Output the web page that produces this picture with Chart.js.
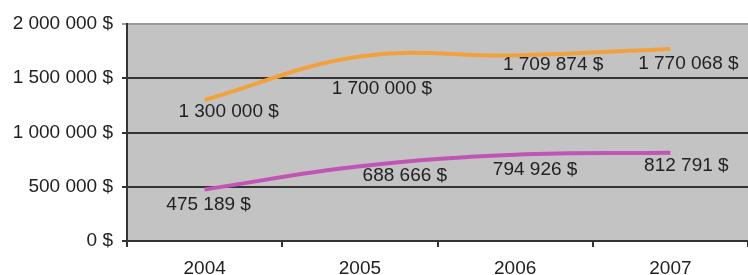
<!DOCTYPE html>
<html lang="fr">
<head>
  <meta charset="UTF-8">
  <title>Ventes 2004-2007</title>
  <script src="https://cdn.jsdelivr.net/npm/chart.js"></script>
  <style>
    html, body { margin: 0; padding: 0; background: #fff; }
    #wrap { width: 748px; height: 275px; }
  </style>
</head>
<body>
  <div id="wrap"><canvas id="salesChart"></canvas></div>

  <script>
    const years = ['2004', '2005', '2006', '2007'];
    const seriesTop = [1300000, 1700000, 1709874, 1770068];
    const seriesBottom = [475189, 688666, 794926, 812791];
    const yTicks = [0, 500000, 1000000, 1500000, 2000000];

    // "1 300 000 $"
    function money(v) {
      return String(Math.round(v)).replace(/\B(?=(\d{3})+(?!\d))/g, ' ') + ' $';
    }

    // label offsets from each point (hand placed in the original)
    const labelShift = [
      [[24, 12], [22, 32], [38, 9], [18, 15]],
      [[4, 15], [45, 9], [20, 15], [16, 13]]
    ];

    const plotBg = {
      id: 'plotBg',
      beforeDraw(chart) {
        const { ctx, chartArea: a } = chart;
        ctx.save();
        ctx.fillStyle = '#c3c3c3';
        ctx.fillRect(a.left, a.top, a.right - a.left, a.bottom - a.top);
        ctx.restore();
      }
    };

    const valueLabels = {
      id: 'valueLabels',
      afterDatasetsDraw(chart) {
        const ctx = chart.ctx;
        ctx.save();
        ctx.font = '19px "Liberation Sans", Arial, sans-serif';
        ctx.fillStyle = '#222';
        ctx.textAlign = 'center';
        ctx.textBaseline = 'middle';
        chart.data.datasets.forEach((ds, i) => {
          chart.getDatasetMeta(i).data.forEach((pt, j) => {
            const s = labelShift[i][j];
            ctx.fillText(money(ds.data[j]), pt.x + s[0], pt.y + s[1]);
          });
        });
        ctx.restore();
      }
    };

    const ctx = document.getElementById('salesChart').getContext('2d');
    const chart = new Chart(ctx, {
      type: 'line',
      data: {
        labels: years,
        datasets: [
          {
            data: seriesTop,
            borderColor: '#f2a23c',
            borderWidth: 4,
            pointRadius: 0,
            tension: 0.4,
            fill: false
          },
          {
            data: seriesBottom,
            borderColor: '#c155b5',
            borderWidth: 4,
            pointRadius: 0,
            tension: 0.4,
            fill: false
          }
        ]
      },
      options: {
        responsive: true,
        maintainAspectRatio: false,
        animation: false,
        layout: { padding: { top: 24, right: 0, left: 0, bottom: 0 } },
        plugins: {
          legend: { display: false },
          tooltip: { enabled: false }
        },
        scales: {
          x: {
            offset: true,
            grid: {
              offset: true,
              drawOnChartArea: false,
              color: '#333',
              lineWidth: 2,
              tickLength: 6
            },
            border: { color: '#333', width: 2 },
            ticks: {
              color: '#222',
              padding: 12,
              font: { family: '"Liberation Sans", Arial, sans-serif', size: 19, lineHeight: 1 }
            },
            afterFit(scale) { scale.height = 34; }
          },
          y: {
            min: 0,
            max: 2000000,
            afterBuildTicks(scale) {
              scale.ticks = yTicks.map(v => ({ value: v }));
            },
            grid: {
              color: ctx => ctx.tick && ctx.tick.value === 2000000 ? '#9a9a9a' : '#333',
              lineWidth: 2,
              tickLength: 5
            },
            border: { color: '#333', width: 2 },
            ticks: {
              color: '#222',
              padding: 9,
              callback: v => money(v),
              font: { family: '"Liberation Sans", Arial, sans-serif', size: 19 }
            },
            afterFit(scale) { scale.width = 127; }
          }
        }
      },
      plugins: [plotBg, valueLabels]
    });
  </script>
</body>
</html>
